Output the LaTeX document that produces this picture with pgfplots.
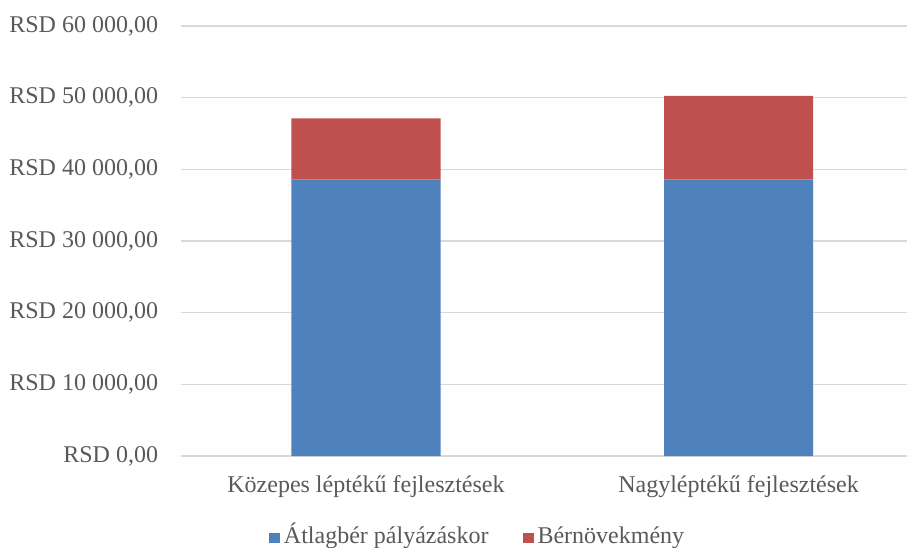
\documentclass[border=0pt]{standalone}
\usepackage{pgfplots}
\pgfplotsset{compat=1.18}
\usepackage{fontspec}
\setmainfont{Liberation Serif}
\definecolor{cblue}{HTML}{4F81BD}
\definecolor{cred}{HTML}{C0504D}
\definecolor{cgrid}{HTML}{D9D9D9}
\definecolor{ctext}{HTML}{595959}
\begin{document}
\begin{tikzpicture}
\begin{axis}[
  at={(0pt,0pt)}, anchor=south west,
  scale only axis,
  width=544.5pt, height=322.5pt,
  ybar stacked,
  bar width=0.4,
  xmin=-0.4965, xmax=1.452,
  ymin=0, ymax=60000,
  xtick={0,1},
  xticklabels={Közepes léptékű fejlesztések, Nagyléptékű fejlesztések},
  ytick={0,10000,20000,30000,40000,50000,60000},
  yticklabels={{RSD 0,00},{RSD 10 000,00},{RSD 20 000,00},{RSD 30 000,00},{RSD 40 000,00},{RSD 50 000,00},{RSD 60 000,00}},
  scaled y ticks=false,
  axis line style={draw=none},
  major tick length=0pt,
  ymajorgrids,
  grid style={cgrid, line width=0.9pt},
  tick label style={font=\fontsize{18}{20}\selectfont, text=ctext},
  yticklabel style={anchor=east, inner sep=0pt, xshift=-17pt},
  xticklabel style={anchor=base, inner sep=0pt, yshift=-27pt},
  legend columns=2,
  legend image code/.code={\fill[#1] (0pt,0.75pt) rectangle (8.25pt,8.25pt);},
  legend style={draw=none, fill=none, inner sep=0pt, outer sep=0pt,
    at={(0.1212,-0.2085)}, anchor=south west,
    font=\fontsize{18}{20}\selectfont, text=ctext,
    nodes={inner sep=0pt, anchor=base west},
    /tikz/every odd column/.append style={column sep=3pt},
    /tikz/every even column/.append style={column sep=25.5pt}},
]
\addplot+[fill=cblue, draw=none] coordinates {(0,38600) (1,38600)};
\addplot+[fill=cred, draw=none] coordinates {(0,8500) (1,11650)};
\legend{Átlagbér pályázáskor, Bérnövekmény}
\end{axis}
\pgfresetboundingbox
\path[use as bounding box] (-135.75pt,-68.25pt) rectangle (546.75pt,342pt);
\end{tikzpicture}
\end{document}
